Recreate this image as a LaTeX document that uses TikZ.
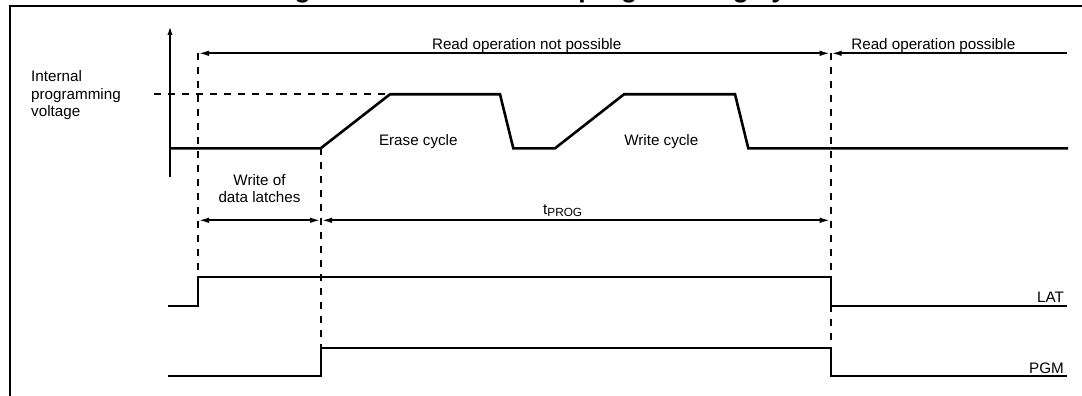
\documentclass[tikz,border=0pt]{standalone}
\usepackage{fontspec}
\setmainfont{Liberation Sans}
\usetikzlibrary{arrows.meta}
\begin{document}
\begin{tikzpicture}[x=1pt,y=-1pt,
  lbl/.style={font=\fontsize{15.2}{17.7}\selectfont, inner sep=0pt, anchor=base},
  wave/.style={line width=2.6pt},
  sig/.style={line width=2pt},
  guide/.style={line width=2pt, dash pattern=on 7pt off 7pt},
  dim/.style={line width=2pt},
  tip/.tip={Latex[length=11pt,width=5.5pt]}
]
\useasboundingbox (0,0) rectangle (1082,396);
% title (cut off at top)
\node[font=\fontsize{26.5}{30}\selectfont\bfseries, inner sep=0pt, anchor=base] (title) at (547,-2.8) {Figure 9. Data EEPROM programming cycle};
% frame
\coordinate (fbl) at (10,400);
\coordinate (ftl) at (10,5.7);
\coordinate (ftr) at (1090,5.7);
\draw[line width=2pt] (fbl) -- (ftl) -- (ftr);

% key coordinates
\coordinate (t1) at (198,53.3);
\coordinate (t2) at (830.7,53.3);
\coordinate (t3) at (1067,53.3);
\coordinate (m1) at (198,220.3);
\coordinate (m2) at (321,220.3);
\coordinate (m3) at (830.7,220.3);

% guides
\draw[guide] (t1) -- (198,277);
\draw[guide] (321,148.3) -- (321,348);
\draw[guide] (t2) -- (830.7,348);
\draw[guide] (154,94.3) -- (386,94.3);

% axis
\coordinate (ax0) at (170,177);
\coordinate (ax1) at (170,24);
\draw[line width=2.2pt, -{Latex[length=11pt,width=5pt]}] (ax0) -- (ax1);

% internal programming voltage waveform
\draw[wave] (170,148.3) -- (320.7,148.3) -- (390,94.3) -- (500,94.3) -- (513.3,148.3) -- (555,148.3) -- (624,94.3) -- (735,94.3) -- (748.3,148.3) -- (1068,148.3);

% dimension arrows
\draw[dim, tip-tip] (t1) -- (t2);
\draw[dim, tip-] (t2) -- (t3);
\draw[dim, tip-tip] (m1) -- (m2);
\draw[dim, tip-tip] (m2) -- (m3);

% LAT and PGM
\draw[sig] (168,305.7) -- (198,305.7) -- (198,277) -- (830.7,277) -- (830.7,305.7) -- (1067,305.7);
\draw[sig] (168,376.3) -- (321,376.3) -- (321,348) -- (830.7,348) -- (830.7,376.3) -- (1067,376.3);

% labels
\node[lbl] (rnp) at (526.7,49.3) {Read operation not possible};
\node[lbl] (rp) at (933.3,49.3) {Read operation possible};
\node[lbl, anchor=base west] (ipv1) at (31,81.7) {Internal};
\node[lbl, anchor=base west] (ipv2) at (31,99.2) {programming};
\node[lbl, anchor=base west] (ipv3) at (31,116.7) {voltage};
\node[lbl] (erase) at (418.3,145.5) {Erase cycle};
\node[lbl] (write) at (661.3,145.5) {Write cycle};
\node[lbl] (wd1) at (259.5,185) {Write of};
\node[lbl] (wd2) at (259.5,202.7) {data latches};
\node[lbl, anchor=base west] (tprog) at (543,214.6) {t\raisebox{-2.2pt}{\fontsize{11.8}{12}\selectfont PROG}};
\node[lbl, anchor=base east] (lat) at (1064,302.7) {LAT};
\node[lbl, anchor=base east] (pgm) at (1064,373.6) {PGM};
\end{tikzpicture}
\end{document}
